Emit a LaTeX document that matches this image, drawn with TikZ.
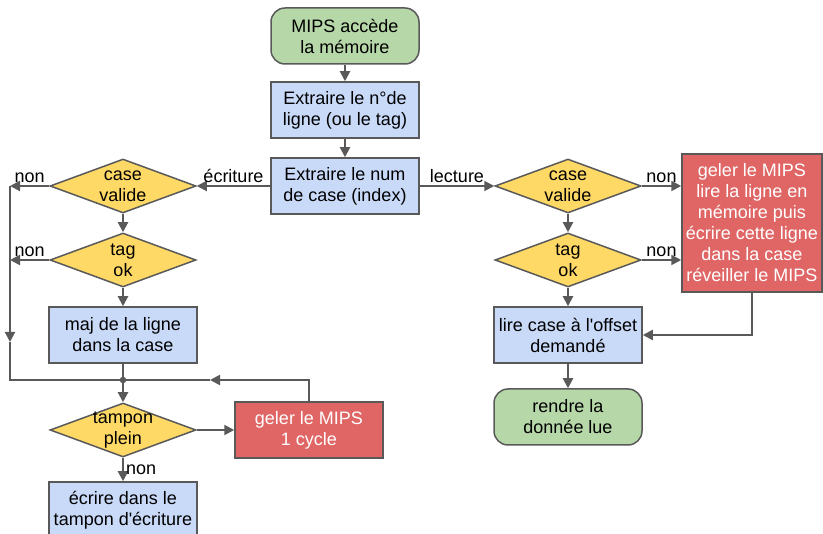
\documentclass[tikz,border=0pt]{standalone}
\usepackage{fontspec}
\setmainfont{Liberation Sans}[Ligatures=TeXOff]
\usetikzlibrary{arrows.meta, shapes.geometric}

\definecolor{gris}{HTML}{595959}
\definecolor{vert}{HTML}{B6D7A8}
\definecolor{bleu}{HTML}{C9DAF8}
\definecolor{jaune}{HTML}{FFD966}
\definecolor{rouge}{HTML}{E06666}

\begin{document}
\begin{tikzpicture}[x=1pt, y=-1pt,
    txt/.style={font=\fontsize{18}{21}\selectfont},
    boite/.style={txt, draw=gris, line width=1.5pt, fill=bleu, minimum width=148pt, minimum height=56pt, inner sep=0pt, align=center},
    debut/.style={boite, fill=vert, rounded corners=14pt},
    gel/.style={boite, fill=rouge, text=white},
    choix/.style={diamond, draw=gris, line width=1.5pt, fill=jaune, minimum width=146pt, minimum height=54pt, inner sep=0pt,
        label={[txt, align=center]center:#1}},
    ligne/.style={draw=gris, line width=2pt},
    fleche/.style={ligne, -{Triangle[length=10pt, width=10pt]}},
    etiq/.style={txt, inner sep=2pt}]
    \useasboundingbox (0,0) rectangle (823,534);

    % Tronc commun
    \node[debut] (mips) at (345,36) {MIPS accède\\la mémoire};
    \node[boite] (tag) at (345,110) {Extraire le n°de\\ligne (ou le tag)};
    \node[boite] (index) at (345,186) {Extraire le num\\de case (index)};

    % Branche écriture
    \node[choix={case\\valide}] (ecvalide) at (123,186) {};
    \node[choix={tag\\ok}] (ectag) at (123,260) {};
    \node[boite] (maj) at (123,335) {maj de la ligne\\dans la case};
    \node[choix={tampon\\plein}] (tampon) at (123,430) {};
    \node[gel] (gel1) at (309,430) {geler le MIPS\\1 cycle};
    \node[boite] (ecrire) at (123,510) {écrire dans le\\tampon d'écriture};

    % Branche lecture
    \node[choix={case\\valide}] (levalide) at (568,186) {};
    \node[choix={tag\\ok}] (letag) at (568,260) {};
    \node[gel, minimum width=140pt, minimum height=138pt] (gel2) at (752,223) {geler le MIPS\\lire la ligne en\\mémoire puis\\écrire cette ligne\\dans la case\\réveiller le MIPS};
    \node[boite] (lire) at (568,335) {lire case à l'offset\\demandé};
    \node[debut] (rendre) at (568,417) {rendre la\\donnée lue};

    % Points de passage
    \coordinate (gauche1) at (10,186);
    \coordinate (gauche2) at (10,260);
    \coordinate (gauchefl) at (10,342);
    \coordinate (gauchebas) at (10,380);
    \filldraw[gris] (123,380) circle (3pt) coordinate (jonction);
    \coordinate (retour) at (210,380);

    % Flèches
    \draw[fleche] (mips) -- (tag);
    \draw[fleche] (tag) -- (index);
    \draw[fleche] (index) -- (ecvalide) node[etiq, midway, above] {écriture};
    \draw[fleche] (index) -- (levalide) node[etiq, midway, above] {lecture};

    \draw[fleche] (ecvalide) -- (gauche1) node[etiq, midway, above] {non};
    \draw[fleche] (ectag) -- (gauche2) node[etiq, midway, above] {non};
    \draw[fleche] (gauche1) -- (gauchefl);
    \draw[ligne] (gauchefl) -- (gauchebas) -- (jonction);
    \draw[fleche] (ecvalide) -- (ectag);
    \draw[fleche] (ectag) -- (maj);
    \draw[ligne] (maj) -- (jonction);
    \draw[fleche] (jonction) -- (tampon);
    \draw[fleche] (tampon) -- (gel1);
    \draw[fleche] (gel1.north) |- (retour);
    \draw[ligne] (retour) -- (jonction);
    \draw[fleche] (tampon) -- (ecrire) node[etiq, midway, right] {non};

    \draw[fleche] (levalide) -- (gel2.west |- levalide) node[etiq, midway, above] {non};
    \draw[fleche] (letag) -- (gel2.west |- letag) node[etiq, midway, above] {non};
    \draw[fleche] (levalide) -- (letag);
    \draw[fleche] (letag) -- (lire);
    \draw[fleche] (gel2.south) |- (lire.east);
    \draw[fleche] (lire) -- (rendre);
\end{tikzpicture}
\end{document}
